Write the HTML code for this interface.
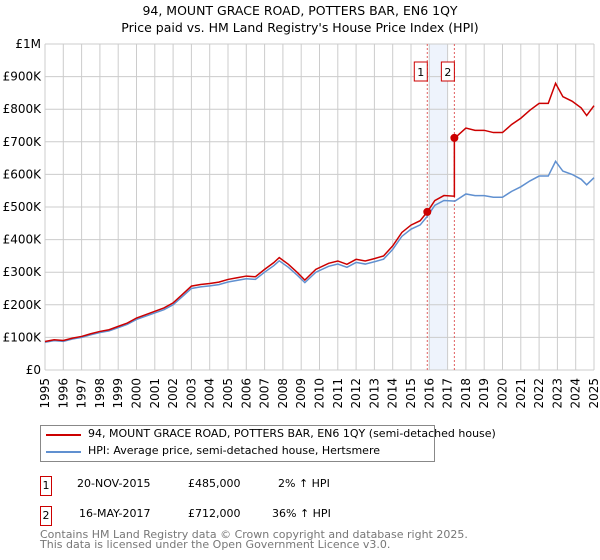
<!DOCTYPE html>
<html><head><meta charset="utf-8"><style>
body{margin:0;background:#fff;font-family:"DejaVu Sans","Liberation Sans",sans-serif;}
#wrap{position:relative;width:600px;height:560px;overflow:hidden}
.t{position:absolute;font-size:12px;color:#000;white-space:nowrap}
</style></head><body>
<div id="wrap">
<svg id="svg" width="600" height="560" style="position:absolute;left:0;top:0"></svg>
<div class="t" style="left:0;width:600px;text-align:center;top:3px;font-size:12.5px">94, MOUNT GRACE ROAD, POTTERS BAR, EN6 1QY</div>
<div class="t" style="left:0;width:600px;text-align:center;top:20px;font-size:12.5px">Price paid vs. HM Land Registry's House Price Index (HPI)</div>
<div style="position:absolute;left:40px;top:425px;width:393px;height:35px;border:1px solid #888">
 <div style="position:absolute;left:5px;top:8px;width:35px;height:2px;background:#cc0000"></div>
 <div class="t" style="left:47px;top:1px;font-size:11px">94, MOUNT GRACE ROAD, POTTERS BAR, EN6 1QY (semi-detached house)</div>
 <div style="position:absolute;left:5px;top:25px;width:35px;height:2px;background:#6090d0"></div>
 <div class="t" style="left:47px;top:18px;font-size:11px">HPI: Average price, semi-detached house, Hertsmere</div>
</div>
<div style="position:absolute;left:40px;top:476px;width:10px;height:18px;border:1px solid #cc0000;font-size:11px;text-align:center;line-height:18px">1</div>
<div class="t" style="left:77px;top:477px;font-size:11px">20-NOV-2015</div>
<div class="t" style="left:188px;top:477px;font-size:11px">£485,000</div>
<div class="t" style="left:278px;top:477px;font-size:11px">2% ↑ HPI</div>
<div style="position:absolute;left:40px;top:506px;width:10px;height:18px;border:1px solid #cc0000;font-size:11px;text-align:center;line-height:18px">2</div>
<div class="t" style="left:79px;top:507px;font-size:11px">16-MAY-2017</div>
<div class="t" style="left:188px;top:507px;font-size:11px">£712,000</div>
<div class="t" style="left:272px;top:507px;font-size:11px">36% ↑ HPI</div>
<div class="t" style="left:40px;top:530px;font-size:11px;color:#777;line-height:10px">Contains HM Land Registry data © Crown copyright and database right 2025.<br>This data is licensed under the Open Government Licence v3.0.</div>
</div>
<script>
const hpiYears=[1995,1995.5,1996,1996.5,1997,1997.5,1998,1998.5,1999,1999.5,2000,2000.5,2001,2001.5,2002,2002.5,2003,2003.5,2004,2004.5,2005,2005.5,2006,2006.5,2007,2007.5,2007.8,2008.3,2008.8,2009.2,2009.8,2010.5,2011,2011.5,2012,2012.5,2013,2013.5,2014,2014.5,2015,2015.5,2015.9,2016.3,2016.8,2017.4,2018,2018.5,2019,2019.5,2020,2020.5,2021,2021.5,2022,2022.5,2022.9,2023.3,2023.8,2024.3,2024.6,2025];
const hpiValues=[85,90,88,95,100,108,115,120,130,140,155,165,175,185,200,225,250,255,258,262,270,275,280,278,300,320,335,315,290,268,300,318,325,315,330,325,332,340,370,410,432,445,472,505,520,518,540,535,535,530,530,548,562,580,595,595,640,610,600,585,568,590];
const saleYears=[2015.89,2017.37];
const salePrices=[485,712];
const yTicks=[0,100,200,300,400,500,600,700,800,900,1000];
const yTickLabels=["£0","£100K","£200K","£300K","£400K","£500K","£600K","£700K","£800K","£900K","£1M"];
const xTicks=[1995,1996,1997,1998,1999,2000,2001,2002,2003,2004,2005,2006,2007,2008,2009,2010,2011,2012,2013,2014,2015,2016,2017,2018,2019,2020,2021,2022,2023,2024,2025];
const svg=document.getElementById('svg');const NS='http://www.w3.org/2000/svg';
const X0=45,X1=594,Y0=370,Y1=44;
const xs=y=>X0+(y-1995)/30*(X1-X0);
const ys=v=>Y0-v/1000*(Y0-Y1);
function mk(t,a){const e=document.createElementNS(NS,t);for(const k in a)e.setAttribute(k,a[k]);svg.appendChild(e);return e;}
let e=mk('rect',{x:xs(2016),y:Y1,width:xs(2017)-xs(2016),height:Y0-Y1,fill:'#eef3fc'});


yTicks.forEach((v,i)=>{let l=mk('line',{x1:X0,x2:X1,y1:ys(v),y2:ys(v),stroke:'#ccc'});


let t=mk('text',{x:X0-4,y:ys(v)+4,'text-anchor':'end','font-size':'12',fill:'#000'});t.textContent=yTickLabels[i];

});
xTicks.forEach(yr=>{let l=mk('line',{x1:xs(yr),x2:xs(yr),y1:Y1,y2:Y0,stroke:'#ccc'});


let t=mk('text',{x:xs(yr)+4,y:Y0+8,'text-anchor':'end','font-size':'12',fill:'#000',transform:`rotate(-90 ${xs(yr)+4} ${Y0+8})`});t.textContent=yr;

});
saleYears.forEach((yr,i)=>{let l=mk('line',{x1:xs(yr),x2:xs(yr),y1:Y1,y2:Y0,stroke:'#e06060','stroke-dasharray':'2,2'});


let r=mk('rect',{x:xs(yr)-19+i*0,y:62,width:13,height:19,fill:'#fff',stroke:'#cc0000'});
r.setAttribute('x',xs(yr)-(i==0?10:10)+(i==0?-3:-3));


let t=mk('text',{x:+r.getAttribute('x')+6.5,y:76,'text-anchor':'middle','font-size':'11'});t.textContent=i+1;

});
function hpiAt(yr){for(let i=1;i<hpiYears.length;i++){if(yr<=hpiYears[i]){const f=(yr-hpiYears[i-1])/(hpiYears[i]-hpiYears[i-1]);return hpiValues[i-1]+f*(hpiValues[i]-hpiValues[i-1]);}}return hpiValues[hpiValues.length-1];}
let hp=hpiYears.map((y,i)=>xs(y)+','+ys(hpiValues[i])).join(' ');
let hl=mk('polyline',{points:hp,fill:'none',stroke:'#6090d0','stroke-width':1.5});


const r1=salePrices[0]/hpiAt(saleYears[0]),r2=salePrices[1]/hpiAt(saleYears[1]);
let pts=[];
hpiYears.forEach((y,i)=>{if(y<saleYears[0])pts.push([y,hpiValues[i]*r1]);});
pts.push([saleYears[0],salePrices[0]]);
hpiYears.forEach((y,i)=>{if(y>saleYears[0]&&y<saleYears[1])pts.push([y,hpiValues[i]*r1]);});
pts.push([saleYears[1],hpiAt(saleYears[1])*r1]);pts.push([saleYears[1],salePrices[1]]);
hpiYears.forEach((y,i)=>{if(y>saleYears[1])pts.push([y,hpiValues[i]*r2]);});
let pl=mk('polyline',{points:pts.map(p=>xs(p[0])+','+ys(p[1])).join(' '),fill:'none',stroke:'#cc0000','stroke-width':1.5});


saleYears.forEach((yr,i)=>{let c=mk('circle',{cx:xs(yr),cy:ys(salePrices[i]),r:4,fill:'#cc0000'});

});
</script>
</body></html>
